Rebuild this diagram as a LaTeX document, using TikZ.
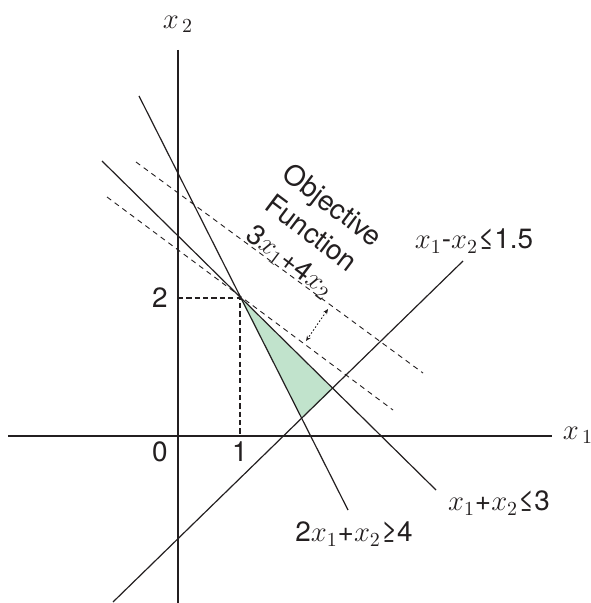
\documentclass[tikz,border=0pt]{standalone}
\usepackage[no-math]{fontspec}
\setmainfont{TeX Gyre Heros}
\usepackage{tikz}
\usetikzlibrary{arrows.meta}
\definecolor{inkcolor}{RGB}{35,31,32}
\definecolor{feasiblebg}{RGB}{193,227,204}
\tikzset{
  axisline/.style={draw=inkcolor, line width=1.3pt},
  constraintline/.style={draw=inkcolor, line width=0.6pt},
  objectiveline/.style={draw=inkcolor, line width=0.45pt, dash pattern=on 2.6pt off 2.2pt},
  guideline/.style={draw=inkcolor, line width=1.3pt, dash pattern=on 2.6pt off 1.6pt},
  shiftarrow/.style={
    {Stealth[length=2.6pt,width=2.2pt]}-{Stealth[length=2.6pt,width=2.2pt]},
    draw=inkcolor, line width=0.45pt, dash pattern=on 0.8pt off 1pt
  },
  plotlabel/.style={
    font=\fontsize{14}{17.5}\selectfont, text=inkcolor, inner sep=0pt
  }
}

\begin{document}
\begin{tikzpicture}[x=0.5bp, y=-0.5bp]
  \useasboundingbox (0,0) rectangle (591,603);

  % corner points
  \coordinate (opt) at (240,298);
  \coordinate (cright) at (333,389);
  \coordinate (clow) at (302,418);

  % feasible region
  \fill[feasiblebg] (opt) -- (cright) -- (clow) -- cycle;

  % axes
  \coordinate (xl) at (8,436);
  \coordinate (xr) at (552,436);
  \coordinate (yt) at (178,50);
  \coordinate (yb) at (178,603);
  \draw[axisline] (xl) -- (xr);
  \draw[axisline] (yt) -- (yb);

  % guides to the optimum
  \coordinate (gx) at (240,436);
  \coordinate (gy) at (178,298);
  \draw[guideline] (gy) -- (opt) -- (gx);

  % objective lines
  \coordinate (oa1) at (136,162);
  \coordinate (oa2) at (423,373);
  \coordinate (ob1) at (107,197);
  \coordinate (ob2) at (393,410);
  \draw[objectiveline] (oa1) -- (oa2);
  \draw[objectiveline] (ob1) -- (ob2);
  \coordinate (sa) at (328,309);
  \coordinate (sb) at (306,341);
  \draw[shiftarrow] (sa) -- (sb);

  % constraints
  \coordinate (ca1) at (139,96);
  \coordinate (ca2) at (348,510);
  \coordinate (cb1) at (102,161);
  \coordinate (cb2) at (436,490);
  \coordinate (cc1) at (463,261);
  \coordinate (cc2) at (113,602);
  \draw[constraintline] (ca1) -- (ca2);
  \draw[constraintline] (cb1) -- (cb2);
  \draw[constraintline] (cc1) -- (cc2);

  % labels
  \node[plotlabel] (xtwo) at (178,24) {$x_{\,2}$};
  \node[plotlabel] (xone) at (578,435) {$x_{\,1}$};
  \node[plotlabel] (zero) at (160,452) {0};
  \node[plotlabel] (one) at (240,452) {1};
  \node[plotlabel] (two) at (160,298) {2};
  \node[plotlabel] (difflabel) at (474,241) {$x_1$-$x_2$≤1.5};
  \node[plotlabel] (sumlabel) at (499,503) {$x_1$+$x_2$≤3};
  \node[plotlabel] (twolabel) at (354,534) {2$x_1$+$x_2$≥4};
  \node[plotlabel, align=center, rotate=-37] (objlabel) at (311,234)
    {Objective\\Function\\3$x_1$+4$x_2$};
\end{tikzpicture}
\end{document}
